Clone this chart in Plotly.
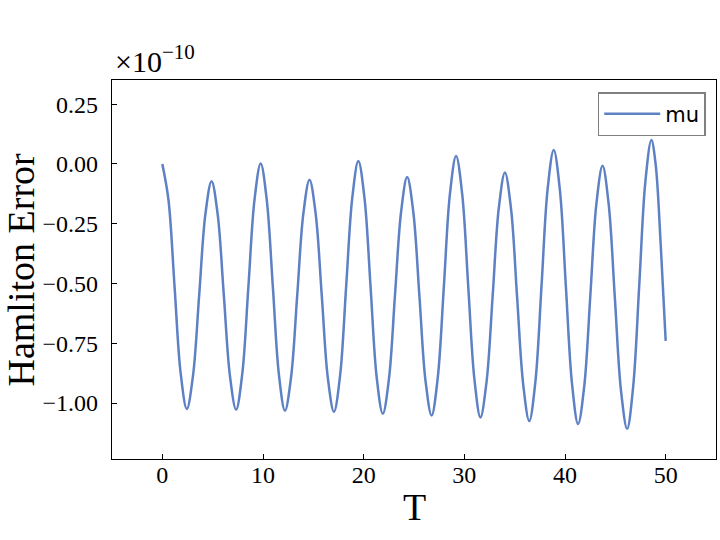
import plotly.graph_objects as go

# Hamiltonian error vs time, values in units of 1e-10
t = [
    0.00, 0.61, 1.215, 1.82,
    2.43, 3.045, 3.66, 4.275,
    4.89, 5.50, 6.11, 6.72,
    7.33, 7.94, 8.55, 9.16,
    9.77, 10.37, 10.98, 11.58,
    12.18, 12.79, 13.40, 14.01,
    14.62, 15.23, 15.84, 16.44,
    17.05, 17.66, 18.26, 18.87,
    19.47, 20.08, 20.69, 21.29,
    21.90, 22.51, 23.11, 23.72,
    24.32, 24.93, 25.54, 26.14,
    26.75, 27.36, 27.97, 28.57,
    29.18, 29.79, 30.39, 31.00,
    31.60, 32.21, 32.82, 33.42,
    34.03, 34.64, 35.24, 35.85,
    36.45, 37.06, 37.67, 38.27,
    38.88, 39.49, 40.09, 40.70,
    41.30, 41.91, 42.52, 43.12,
    43.73, 44.34, 44.95, 45.56,
    46.17, 46.77, 47.38, 47.98,
    48.58, 49.00, 49.50, 50.00,
]
mu = [
    0.000, -0.150, -0.513, -0.875,
    -1.025, -0.886, -0.549, -0.211,
    -0.072, -0.212, -0.550, -0.888,
    -1.028, -0.878, -0.513, -0.148,
    0.002, -0.149, -0.515, -0.881,
    -1.032, -0.891, -0.549, -0.207,
    -0.066, -0.208, -0.552, -0.895,
    -1.037, -0.884, -0.513, -0.141,
    0.012, -0.142, -0.517, -0.891,
    -1.045, -0.900, -0.550, -0.200,
    -0.055, -0.201, -0.554, -0.906,
    -1.052, -0.894, -0.510, -0.125,
    0.033, -0.127, -0.514, -0.900,
    -1.060, -0.910, -0.548, -0.186,
    -0.036, -0.188, -0.556, -0.923,
    -1.075, -0.910, -0.509, -0.107,
    0.058, -0.109, -0.515, -0.921,
    -1.088, -0.930, -0.548, -0.166,
    -0.008, -0.169, -0.558, -0.947,
    -1.108, -0.932, -0.504, -0.076,
    0.100, 0.000, -0.330, -0.740,
]

x_ticks = [0, 10, 20, 30, 40, 50]
y_ticks = [-1.00, -0.75, -0.50, -0.25, 0.00, 0.25]

SERIF = "Liberation Serif"

fig = go.Figure()
fig.add_trace(go.Scatter(
    x=t, y=mu, mode="lines", name="mu",
    line=dict(color="#5e80c4", width=2.5, shape="spline", smoothing=1.0),
))

axis_common = dict(
    showline=True, linecolor="black", linewidth=1.2, mirror=True,
    ticks="inside", ticklen=5, tickwidth=1.1, tickcolor="black",
    showgrid=False, zeroline=False,
    tickfont=dict(family=SERIF, size=24, color="black"),
)

fig.update_xaxes(range=[-5, 55], tickvals=x_ticks, ticklabelstandoff=-6, **axis_common)
fig.update_yaxes(
    range=[-1.234, 0.351], tickvals=y_ticks, tickformat=".2f", ticklabelstandoff=8,
    **axis_common,
)

# axis titles placed by hand so they sit where matplotlib put them
fig.add_annotation(
    text="Hamliton Error", xref="paper", yref="paper", x=0.0, y=0.5,
    xanchor="center", yanchor="middle", xshift=-92, textangle=-90, showarrow=False,
    font=dict(family=SERIF, size=38, color="black"),
)
fig.add_annotation(
    text="T", xref="paper", yref="paper", x=0.5, y=0.0,
    xanchor="center", yanchor="middle", yshift=-48, showarrow=False,
    font=dict(family=SERIF, size=38, color="black"),
)

# matplotlib-style offset text
fig.add_annotation(
    text="×10<sup>−10</sup>", xref="paper", yref="paper", x=0.0, y=1.0,
    xanchor="left", yanchor="bottom", xshift=1, yshift=0, showarrow=False,
    font=dict(family=SERIF, size=30, color="black"),
)

fig.update_layout(
    width=720, height=540,
    margin=dict(l=112, r=4, t=80, b=81),
    plot_bgcolor="white", paper_bgcolor="white",
    showlegend=True,
    legend=dict(
        x=0.983, y=0.968, xanchor="right", yanchor="top",
        bordercolor="#808080", borderwidth=1.5, bgcolor="white",
        itemwidth=56,
        font=dict(family="DejaVu Sans", size=21, color="black"),
    ),
)

fig.write_html("out.html", config={"displayModeBar": False},
               post_script="document.body.style.margin='0';")
